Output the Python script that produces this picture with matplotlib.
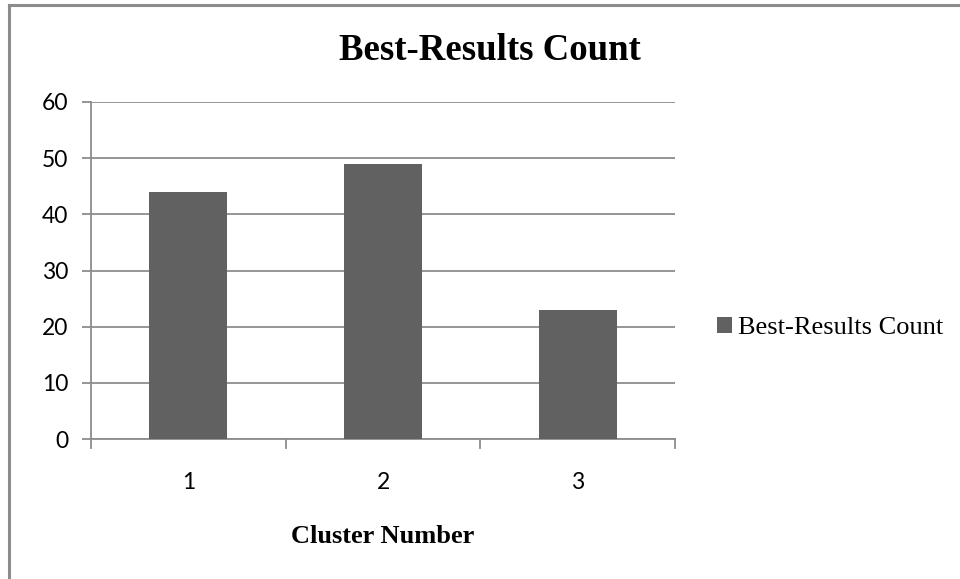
import matplotlib
matplotlib.use("Agg")
import matplotlib.pyplot as plt
from matplotlib.lines import Line2D

clusters = ["1", "2", "3"]
best_counts = [44, 49, 23]
y_ticks = [0, 10, 20, 30, 40, 50, 60]
series_name = "Best-Results Count"

W, H = 960, 579
fig = plt.figure(figsize=(W / 100, H / 100), dpi=100)
fig.patch.set_facecolor("white")

# chart frame (left and top edges)
frame_kw = dict(color="#8c8c8c", lw=2.2, transform=fig.transFigure)
fig.add_artist(Line2D([9 / W, 9 / W], [0, 1 - 5 / H], **frame_kw))
fig.add_artist(Line2D([9 / W, 1], [1 - 5 / H, 1 - 5 / H], **frame_kw))

left, right = 91 / W, 675 / W
bottom, top = 1 - 439 / H, 1 - 102 / H
ax = fig.add_axes([left, bottom, right - left, top - bottom])

x = list(range(len(clusters)))
ax.bar(x, best_counts, width=0.4, color="#616161", zorder=3, label=series_name)

ax.set_xlim(-0.5, len(clusters) - 0.5)
ax.set_ylim(0, 60)
ax.set_yticks(y_ticks)
ax.set_yticklabels([str(v) for v in y_ticks], fontsize=16.5, family="Lato")
ax.set_xticks(x)
ax.set_xticklabels(clusters, fontsize=16.5, family="Lato")
ax.grid(axis="y", color="#8c8c8c", lw=1.3, zorder=0)

for s in ("top", "right"):
    ax.spines[s].set_visible(False)
for s in ("left", "bottom"):
    ax.spines[s].set_color("#8c8c8c")
    ax.spines[s].set_linewidth(1.3)

ax.tick_params(axis="y", length=6.5, width=1.3, color="#8c8c8c", pad=10)
ax.tick_params(axis="x", length=0, pad=24)
# category boundary ticks on the x axis
for b in [-0.5, 0.5, 1.5, 2.5]:
    ax.plot([b, b], [0, -0.028], transform=ax.get_xaxis_transform(),
            color="#8c8c8c", lw=1.3, clip_on=False)

ax.set_xlabel("Cluster Number", fontsize=19, fontweight="bold",
              family="Liberation Serif", va="baseline")
ax.xaxis.set_label_coords(0.5, (439 - 543) / 337)

fig.text(490 / W, 1 - 60 / H, series_name, fontsize=26.5, fontweight="bold",
         family="Liberation Serif", ha="center", va="baseline")

leg = ax.legend(loc="center left", bbox_to_anchor=(717 / W, 1 - 328 / H),
                bbox_transform=fig.transFigure, frameon=False,
                prop={"family": "Liberation Serif", "size": 19},
                handlelength=0.58, handleheight=0.58, handletextpad=0.2,
                borderaxespad=0, borderpad=0)

fig.savefig("out.png", dpi=100, facecolor="white")
